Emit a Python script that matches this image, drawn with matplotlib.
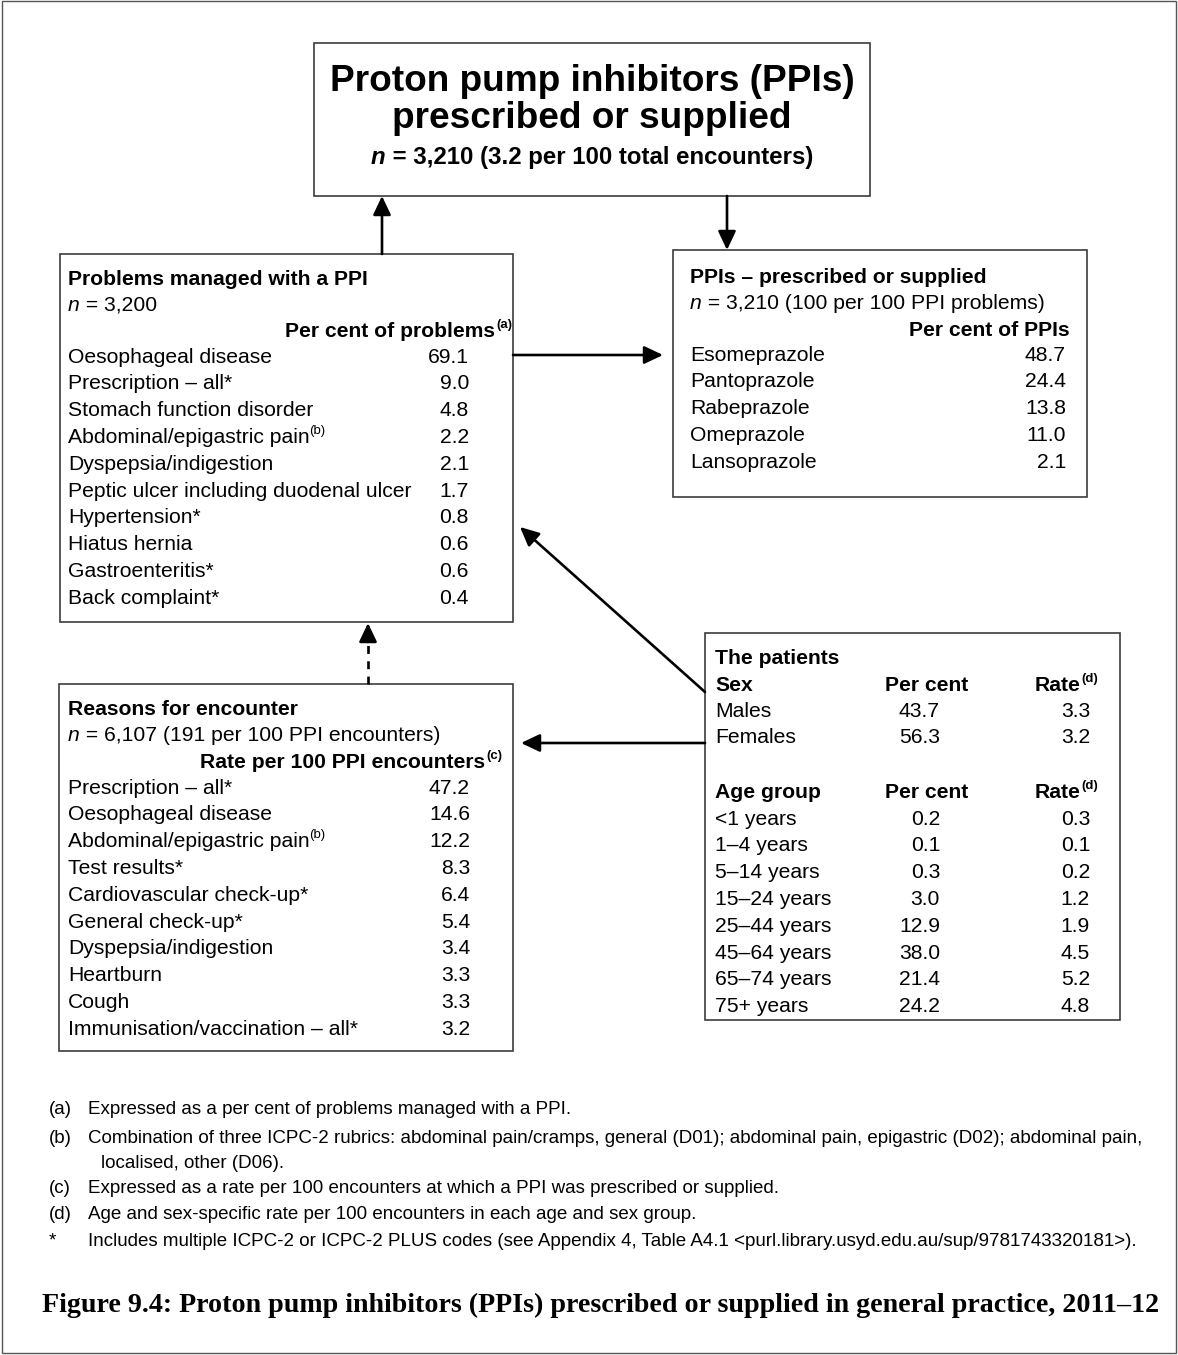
import matplotlib
matplotlib.use('Agg')
import matplotlib.pyplot as plt
from matplotlib.patches import Rectangle

# ---------------- data ----------------
title_lines = ["Proton pump inhibitors (PPIs)", "prescribed or supplied"]
title_n = " = 3,210 (3.2 per 100 total encounters)"

problems = ["Oesophageal disease", "Prescription \u2013 all*", "Stomach function disorder",
            "Abdominal/epigastric pain^(b)", "Dyspepsia/indigestion",
            "Peptic ulcer including duodenal ulcer", "Hypertension*", "Hiatus hernia",
            "Gastroenteritis*", "Back complaint*"]
problems_pct = [69.1, 9.0, 4.8, 2.2, 2.1, 1.7, 0.8, 0.6, 0.6, 0.4]

ppis = ["Esomeprazole", "Pantoprazole", "Rabeprazole", "Omeprazole", "Lansoprazole"]
ppis_pct = [48.7, 24.4, 13.8, 11.0, 2.1]

reasons = ["Prescription \u2013 all*", "Oesophageal disease", "Abdominal/epigastric pain^(b)",
           "Test results*", "Cardiovascular check-up*", "General check-up*",
           "Dyspepsia/indigestion", "Heartburn", "Cough", "Immunisation/vaccination \u2013 all*"]
reasons_rate = [47.2, 14.6, 12.2, 8.3, 6.4, 5.4, 3.4, 3.3, 3.3, 3.2]

sex = ["Males", "Females"]
sex_pct = [43.7, 56.3]
sex_rate = [3.3, 3.2]

age_groups = ["<1 years", "1\u20134 years", "5\u201314 years", "15\u201324 years",
              "25\u201344 years", "45\u201364 years", "65\u201374 years", "75+ years"]
age_pct = [0.2, 0.1, 0.3, 3.0, 12.9, 38.0, 21.4, 24.2]
age_rate = [0.3, 0.1, 0.2, 1.2, 1.9, 4.5, 5.2, 4.8]

footnotes = [
    ("(a)", ["Expressed as a per cent of problems managed with a PPI."]),
    ("(b)", ["Combination of three ICPC-2 rubrics: abdominal pain/cramps, general (D01); abdominal pain, epigastric (D02); abdominal pain,",
             "localised, other (D06)."]),
    ("(c)", ["Expressed as a rate per 100 encounters at which a PPI was prescribed or supplied."]),
    ("(d)", ["Age and sex-specific rate per 100 encounters in each age and sex group."]),
    ("*", ["Includes multiple ICPC-2 or ICPC-2 PLUS codes (see Appendix 4, Table A4.1 <purl.library.usyd.edu.au/sup/9781743320181>)."]),
]
caption = "Figure 9.4: Proton pump inhibitors (PPIs) prescribed or supplied in general practice, 2011\u201312"

# ---------------- setup ----------------
W, H = 1178, 1355
fig = plt.figure(figsize=(W / 100, H / 100), dpi=100)
ax = fig.add_axes([0, 0, 1, 1])
ax.set_xlim(0, W)
ax.set_ylim(H, 0)
ax.axis('off')
renderer = fig.canvas.get_renderer()

SANS = 'Liberation Sans'
SERIF = 'Liberation Serif'
EDGE = '#3c3c3c'


def text_width(s, size, weight='normal', style='normal', family=SANS):
    t = ax.text(0, 0, s, fontsize=size, fontweight=weight, fontstyle=style, family=family)
    w = t.get_window_extent(renderer).width
    t.remove()
    return w


def fit(s, target, weight='normal', style='normal', family=SANS):
    return 10 * target / text_width(s, 10, weight, style, family)


MAIN = fit("Oesophageal disease", 205)
FOOT = fit(footnotes[4][1][0], 1050)
CAP = fit(caption, 1120, weight='bold', family=SERIF)
T1 = fit(title_lines[0], 525, weight='bold')
T3 = fit("n" + title_n, 442, weight='bold')


def px(size):
    return size * 100 / 72.0


def line(x, yc, parts, size, ha='left', family=SANS, cap=0.716):
    """parts: list of (text, weight, style, is_sup). yc = cap-centre y."""
    base = yc + cap * px(size) / 2
    ws = []
    for s, wgt, sty, sup in parts:
        sz = size * 0.62 if sup else size
        ws.append(text_width(s, sz, wgt, sty, family))
    total = sum(ws)
    if ha == 'left':
        cx = x
    elif ha == 'right':
        cx = x - total
    else:
        cx = x - total / 2
    for (s, wgt, sty, sup), w in zip(parts, ws):
        sz = size * 0.62 if sup else size
        yy = base - 0.42 * px(size) if sup else base
        ax.text(cx, yy, s, fontsize=sz, fontweight=wgt, fontstyle=sty, family=family,
                ha='left', va='baseline', color='black')
        cx += w


def label_parts(lbl, weight='normal'):
    if '^' in lbl:
        a, b = lbl.split('^')
        return [(a, weight, 'normal', False), (b, weight, 'normal', True)]
    return [(lbl, weight, 'normal', False)]


def box(x0, y0, x1, y1):
    ax.add_patch(Rectangle((x0, y0), x1 - x0, y1 - y0, fill=False, edgecolor=EDGE, lw=1.2))


def arrow(x0, y0, x1, y1):
    ax.annotate('', xy=(x1, y1), xytext=(x0, y0),
                arrowprops=dict(arrowstyle='-|>,head_length=0.95,head_width=0.45',
                                mutation_scale=12, lw=1.9, color='black',
                                shrinkA=0, shrinkB=0))


def dashed_arrow(x, y0, y1):
    head_base = y1 + 18
    ax.plot([x, x], [y0, head_base], color='black', lw=1.9, dashes=(3.0, 2.8),
            solid_capstyle='butt', dash_capstyle='butt')
    arrow(x, head_base + 1, x, y1)


# outer frame
ax.add_patch(Rectangle((1.5, 1), W - 4, H - 3, fill=False, edgecolor='#555555', lw=1.0))

# ---------------- top box ----------------
box(314, 43, 870, 196)
cx_top = 592
line(cx_top, 78, [(title_lines[0], 'bold', 'normal', False)], T1, ha='center')
line(cx_top, 115, [(title_lines[1], 'bold', 'normal', False)], T1, ha='center')
line(cx_top, 155, [("n", 'bold', 'italic', False), (title_n, 'bold', 'normal', False)], T3, ha='center')

# ---------------- problems box ----------------
box(60, 254, 513, 622)
line(68, 277, [("Problems managed with a PPI", 'bold', 'normal', False)], MAIN)
line(68, 303, [("n", 'normal', 'italic', False), (" = 3,200", 'normal', 'normal', False)], MAIN)
line(495, 329, [("Per cent of problems", 'bold', 'normal', False)], MAIN, ha='right')
line(496, 329, [("(a)", 'bold', 'normal', True)], MAIN)
for i, (lbl, v) in enumerate(zip(problems, problems_pct)):
    y = 355 + 26.8 * i
    line(68, y, label_parts(lbl), MAIN)
    line(469, y, [(f"{v:.1f}", 'normal', 'normal', False)], MAIN, ha='right')

# ---------------- PPIs box ----------------
box(673, 250, 1087, 497)
line(690, 275, [("PPIs \u2013 prescribed or supplied", 'bold', 'normal', False)], MAIN)
line(690, 301, [("n", 'normal', 'italic', False),
                (" = 3,210 (100 per 100 PPI problems)", 'normal', 'normal', False)], MAIN)
line(1070, 328, [("Per cent of PPIs", 'bold', 'normal', False)], MAIN, ha='right')
for i, (lbl, v) in enumerate(zip(ppis, ppis_pct)):
    y = 353 + 26.8 * i
    line(690, y, [(lbl, 'normal', 'normal', False)], MAIN)
    line(1066, y, [(f"{v:.1f}", 'normal', 'normal', False)], MAIN, ha='right')

# ---------------- reasons box ----------------
box(59, 684, 513, 1051)
line(68, 707, [("Reasons for encounter", 'bold', 'normal', False)], MAIN)
line(68, 733, [("n", 'normal', 'italic', False),
               (" = 6,107 (191 per 100 PPI encounters)", 'normal', 'normal', False)], MAIN)
line(485, 760, [("Rate per 100 PPI encounters", 'bold', 'normal', False)], MAIN, ha='right')
line(486, 760, [("(c)", 'bold', 'normal', True)], MAIN)
for i, (lbl, v) in enumerate(zip(reasons, reasons_rate)):
    y = 786 + 26.8 * i
    line(68, y, label_parts(lbl), MAIN)
    line(470, y, [(f"{v:.1f}", 'normal', 'normal', False)], MAIN, ha='right')

# ---------------- patients box ----------------
box(705, 633, 1120, 1020)
line(715, 656, [("The patients", 'bold', 'normal', False)], MAIN)
line(715, 683, [("Sex", 'bold', 'normal', False)], MAIN)
line(885, 683, [("Per cent", 'bold', 'normal', False)], MAIN)
line(1035, 683, [("Rate", 'bold', 'normal', False), ("(d)", 'bold', 'normal', True)], MAIN)
for i, (lbl, p, r) in enumerate(zip(sex, sex_pct, sex_rate)):
    y = 709 + 26.8 * i
    line(715, y, [(lbl, 'normal', 'normal', False)], MAIN)
    line(940, y, [(f"{p:.1f}", 'normal', 'normal', False)], MAIN, ha='right')
    line(1090, y, [(f"{r:.1f}", 'normal', 'normal', False)], MAIN, ha='right')
line(715, 790, [("Age group", 'bold', 'normal', False)], MAIN)
line(885, 790, [("Per cent", 'bold', 'normal', False)], MAIN)
line(1035, 790, [("Rate", 'bold', 'normal', False), ("(d)", 'bold', 'normal', True)], MAIN)
for i, (lbl, p, r) in enumerate(zip(age_groups, age_pct, age_rate)):
    y = 817 + 26.8 * i
    line(715, y, [(lbl, 'normal', 'normal', False)], MAIN)
    line(940, y, [(f"{p:.1f}", 'normal', 'normal', False)], MAIN, ha='right')
    line(1090, y, [(f"{r:.1f}", 'normal', 'normal', False)], MAIN, ha='right')

# ---------------- arrows ----------------
arrow(382, 254, 382, 196)
arrow(727, 196, 727, 250)
arrow(513, 355, 663, 355)
dashed_arrow(368, 684, 623)
arrow(705, 692, 520, 527)
arrow(705, 743, 521, 743)

# ---------------- footnotes ----------------
fy = [1107, 1136, 1186, 1212, 1239]
for (lab, lines), y in zip(footnotes, fy):
    line(49, y, [(lab, 'normal', 'normal', False)], FOOT)
    line(88, y, [(lines[0], 'normal', 'normal', False)], FOOT)
    if len(lines) > 1:
        line(101, y + 25, [(lines[1], 'normal', 'normal', False)], FOOT)

# ---------------- caption ----------------
line(601, 1303, [(caption, 'bold', 'normal', False)], CAP, ha='center', family=SERIF, cap=0.66)

fig.savefig('out.png', dpi=100)
